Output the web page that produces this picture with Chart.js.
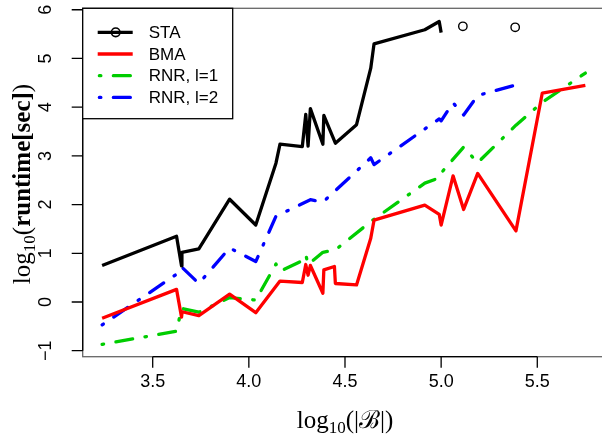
<!DOCTYPE html>
<html lang="en">
<head>
<meta charset="UTF-8"/>
<title>Runtime vs |B|</title>
<script src="https://cdn.jsdelivr.net/npm/chart.js"></script>
<style>
 html,body{margin:0;padding:0;background:#fff;overflow:hidden}
 canvas{display:block}
</style>
</head>
<body>
<canvas id="c" width="610" height="437"></canvas>
<script>
// log10(|B|) on x, log10(runtime) on y
const staX  = [3.237, 3.624, 3.650, 3.652, 3.74, 3.90, 4.036, 4.141, 4.162, 4.278, 4.296, 4.308, 4.32, 4.385, 4.39, 4.45, 4.56, 4.634, 4.651, 4.915, 4.99, 5.0];
const staY  = [0.75, 1.35, 0.74, 1.02, 1.09, 2.11, 1.58, 2.85, 3.24, 3.19, 3.85, 3.20, 3.97, 3.24, 3.83, 3.26, 3.64, 4.80, 5.30, 5.59, 5.76, 5.53];
const staOX = [5.113, 5.385];   // the two lone "o" points
const staOY = [5.66, 5.64];

const bmaX = [3.237, 3.624, 3.65, 3.653, 3.74, 3.90, 4.036, 4.162, 4.278, 4.296, 4.308, 4.32, 4.385, 4.39, 4.445, 4.45, 4.56, 4.634, 4.651, 4.915, 4.99, 5.0, 5.062, 5.117, 5.19, 5.389, 5.526, 5.75];
const bmaY = [-0.335, 0.26, -0.31, -0.2, -0.28, 0.16, -0.22, 0.43, 0.40, 0.77, 0.55, 0.75, 0.18, 0.66, 0.73, 0.38, 0.35, 1.31, 1.68, 1.99, 1.80, 1.58, 2.59, 1.90, 2.64, 1.46, 4.29, 4.45];

const rnr1X = [3.237, 3.624, 3.65, 3.74, 3.90, 4.036, 4.141, 4.162, 4.278, 4.296, 4.308, 4.385, 4.45, 4.634, 4.651, 4.915, 4.99, 5.0, 5.117, 5.19, 5.389, 5.526, 5.75];
const rnr1Y = [-0.87, -0.60, -0.13, -0.21, 0.09, 0.04, 0.78, 0.63, 0.85, 0.97, 0.77, 1.02, 1.07, 1.65, 1.70, 2.44, 2.55, 2.65, 3.18, 2.86, 3.63, 4.10, 4.70];

const rnr2X = [3.237, 3.624, 3.65, 3.74, 3.90, 4.036, 4.141, 4.32, 4.385, 4.634, 4.651, 4.99, 5.0, 5.062, 5.117, 5.19, 5.389];
const rnr2Y = [-0.47, 0.57, 0.72, 0.38, 1.11, 0.83, 1.76, 2.10, 2.05, 2.96, 2.82, 3.76, 3.72, 4.09, 3.84, 4.24, 4.455];

const xTicks = [3.5, 4.0, 4.5, 5.0, 5.5];
const yTicks = [-1, 0, 1, 2, 3, 4, 5, 6];
const legendNames = ['STA', 'BMA', 'RNR, l=1', 'RNR, l=2'];

const pts = (xs, ys) => xs.map((v, i) => ({x: v, y: ys[i]}));
const dotdash = [1.5, 12.5, 17, 12.5];
const SANS = '"Liberation Sans", Arial, Helvetica, sans-serif';
const SERIF = '"Liberation Serif", "DejaVu Serif", serif';

function lineSet(label, data, color, dash) {
  return {label, data, borderColor: color, borderWidth: 3.3, borderDash: dash || [],
    borderCapStyle: dash ? 'round' : 'butt', borderJoinStyle: 'round',
    pointRadius: 0, fill: false, tension: 0};
}

// draw a run of text pieces (for subscripts / bold parts), centred on cx
function drawParts(ctx, parts, cx, cy) {
  let w = 0;
  parts.forEach(p => { ctx.font = p.f; p.w = ctx.measureText(p.t).width; w += p.w; });
  let x = cx - w / 2;
  ctx.textAlign = 'left';
  ctx.textBaseline = 'alphabetic';
  parts.forEach(p => { ctx.font = p.f; ctx.fillText(p.t, x, cy + (p.dy || 0)); x += p.w; });
}

const decor = {
  id: 'decor',
  afterDraw(chart) {
    const {ctx, chartArea: a, scales: {x, y}} = chart;
    ctx.save();
    // grey box, black axes from first to last tick
    ctx.lineWidth = 1.3;
    ctx.strokeStyle = '#666';
    ctx.strokeRect(a.left, a.top, a.right - a.left, a.bottom - a.top);
    ctx.strokeStyle = '#000';
    ctx.beginPath();
    ctx.moveTo(x.getPixelForValue(xTicks[0]), a.bottom);
    ctx.lineTo(x.getPixelForValue(xTicks[xTicks.length - 1]), a.bottom);
    xTicks.forEach(v => { const px = x.getPixelForValue(v); ctx.moveTo(px, a.bottom); ctx.lineTo(px, a.bottom + 11); });
    ctx.moveTo(a.left, y.getPixelForValue(yTicks[0]));
    ctx.lineTo(a.left, y.getPixelForValue(yTicks[yTicks.length - 1]));
    yTicks.forEach(v => { const py = y.getPixelForValue(v); ctx.moveTo(a.left, py); ctx.lineTo(a.left - 11, py); });
    ctx.stroke();

    // tick labels
    ctx.fillStyle = '#000';
    ctx.font = '18px ' + SANS;
    ctx.textAlign = 'center';
    ctx.textBaseline = 'middle';
    xTicks.forEach(v => ctx.fillText(v.toFixed(1), x.getPixelForValue(v), a.bottom + 25));
    yTicks.forEach(v => {
      ctx.save();
      ctx.translate(a.left - 37, y.getPixelForValue(v));
      ctx.rotate(-Math.PI / 2);
      ctx.fillText(v < 0 ? '\u2212' + Math.abs(v) : String(v), 0, 0);
      ctx.restore();
    });

    // axis titles
    drawParts(ctx, [
      {t: 'log', f: '25px ' + SERIF},
      {t: '10', f: '17px ' + SERIF, dy: 5},
      {t: '(|\u212C|)', f: '25px ' + SERIF}
    ], 345, 428);
    ctx.save();
    ctx.translate(30, 184);
    ctx.rotate(-Math.PI / 2);
    drawParts(ctx, [
      {t: 'log', f: '25px ' + SERIF},
      {t: '10', f: '17px ' + SERIF, dy: 5},
      {t: '(', f: '25px ' + SERIF},
      {t: 'runtime[sec]', f: 'bold 25px ' + SERIF},
      {t: ')', f: '25px ' + SERIF}
    ], 0, 0);
    ctx.restore();

    // legend
    const lx = a.left, ly = a.top, lw = 150, lh = 110.4;
    ctx.fillStyle = '#fff';
    ctx.fillRect(lx, ly, lw, lh);
    ctx.strokeStyle = '#000';
    ctx.lineWidth = 1.3;
    ctx.strokeRect(lx, ly, lw, lh);
    const ds = chart.data.datasets;
    legendNames.forEach((name, i) => {
      const d = ds[i];
      const ry = ly + 24 + i * 21.7;
      ctx.save();
      ctx.strokeStyle = d.borderColor;
      ctx.lineWidth = d.borderWidth;
      ctx.lineCap = d.borderCapStyle;
      ctx.setLineDash(d.borderDash);
      ctx.beginPath();
      ctx.moveTo(lx + 15 + (d.borderDash.length ? 1.65 : 0), ry);
      ctx.lineTo(lx + 50, ry);
      ctx.stroke();
      if (i === 0) {
        ctx.setLineDash([]);
        ctx.lineWidth = 1.6;
        ctx.beginPath();
        ctx.arc(lx + 33, ry, 4.3, 0, Math.PI * 2);
        ctx.stroke();
      }
      ctx.restore();
      ctx.fillStyle = '#000';
      ctx.font = '17px ' + SANS;
      ctx.textAlign = 'left';
      ctx.textBaseline = 'middle';
      ctx.fillText(name, lx + 66, ry + 1);
    });
    ctx.restore();
  }
};

new Chart(document.getElementById('c'), {
  type: 'line',
  data: {
    datasets: [
      lineSet('STA', pts(staX, staY), '#000000'),
      lineSet('BMA', pts(bmaX, bmaY), '#ff0000'),
      lineSet('RNR, l=1', pts(rnr1X, rnr1Y), '#00cd00', dotdash),
      lineSet('RNR, l=2', pts(rnr2X, rnr2Y), '#0000ff', dotdash),
      {label: 'STA points', data: pts(staOX, staOY), showLine: false, pointStyle: 'circle',
       pointRadius: 4.2, pointBorderWidth: 1.4, pointBorderColor: '#000', pointBackgroundColor: 'rgba(0,0,0,0)'}
    ]
  },
  options: {
    responsive: false,
    animation: false,
    devicePixelRatio: 1,
    layout: {padding: {top: 8.3, right: 1, bottom: 0, left: 0}},
    plugins: {legend: {display: false}, tooltip: {enabled: false}},
    scales: {
      x: {type: 'linear', min: 3.136, max: 5.849,
          grid: {display: false}, border: {display: false}, ticks: {display: false},
          afterFit: s => { s.height = 80.3; }},
      y: {type: 'linear', min: -1.123, max: 6.03,
          grid: {display: false}, border: {display: false}, ticks: {display: false},
          afterFit: s => { s.width = 82.7; }}
    }
  },
  plugins: [decor]
});
</script>
</body>
</html>
